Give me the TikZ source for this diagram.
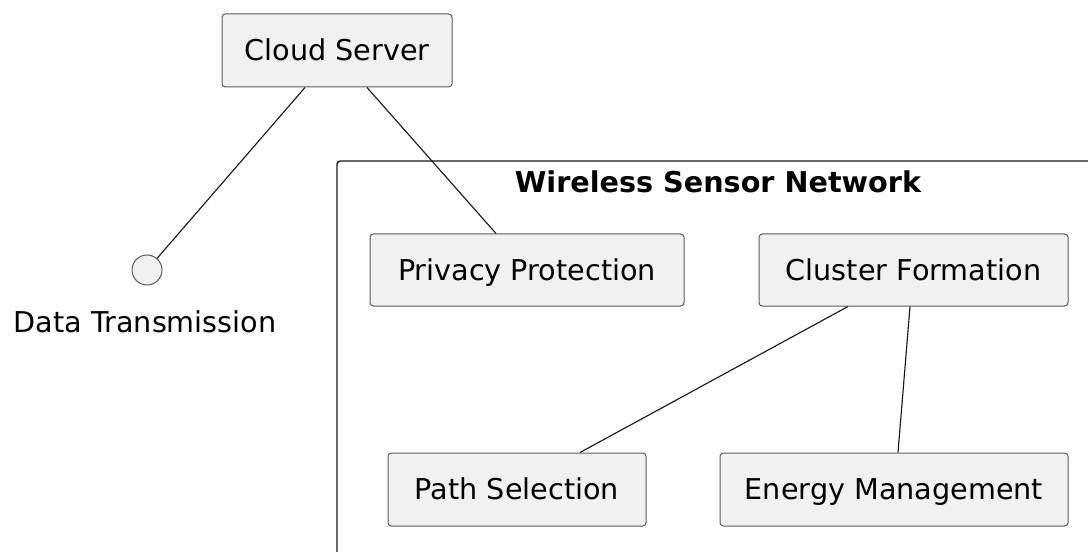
\documentclass[tikz,border=0pt]{standalone}
\usepackage{fontspec}
\setmainfont{DejaVu Sans}
\usetikzlibrary{positioning,calc}
\definecolor{boxfill}{HTML}{F1F1F1}
\definecolor{boxline}{HTML}{181818}
\tikzset{
  component/.style={draw=boxline!70, fill=boxfill, rounded corners=2.5pt, line width=0.75pt,
    inner sep=0pt, minimum height=73*0.75pt, text height=15.7pt, text depth=0pt,
    font=\fontsize{21.5}{24}\selectfont},
  iface/.style={circle, draw=boxline!70, fill=boxfill, line width=0.75pt, inner sep=0pt,
    minimum size=22.5pt},
  link/.style={draw=boxline, line width=0.85pt},
  package/.style={draw=boxline, line width=1.1pt, rounded corners=2.5pt}
}
\begin{document}
\begin{tikzpicture}[x=0.75pt, y=-0.75pt]
    \useasboundingbox (0,0) rectangle (1088,552);

    % package frame
    \draw[package] (1100,161) rectangle (337,570);
    \node[font=\bfseries\fontsize{21.5}{24}\selectfont] (wsn) at (718,182) {Wireless Sensor Network};

    \node[component, minimum width=230*0.75pt] (cloud) at (337,50.5) {Cloud Server};
    \node[iface] (dt) at (147,270) {};
    \node[font=\fontsize{21.5}{24}\selectfont] (dtlabel) at (145,322) {Data Transmission};

    \node[component, minimum width=314*0.75pt, minimum height=72*0.75pt] (privacy) at (527,270) {Privacy Protection};
    \node[component, minimum width=309*0.75pt, minimum height=72*0.75pt] (cluster) at (913.5,270) {Cluster Formation};
    \node[component, minimum width=258*0.75pt] (path) at (517,489.5) {Path Selection};
    \node[component, minimum width=348*0.75pt] (energy) at (894,489.5) {Energy Management};

    \draw[link] ($(cloud.south)+(-32,0)$) -- (dt);
    \draw[link] ($(cloud.south)+(30,0)$) -- ($(privacy.north)+(-31,0)$);
    \draw[link] ($(cluster.south)+(-65.5,0)$) -- ($(path.north)+(63,0)$);
    \draw[link] ($(cluster.south)+(-3.5,0)$) -- ($(energy.north)+(4,0)$);
\end{tikzpicture}
\end{document}
